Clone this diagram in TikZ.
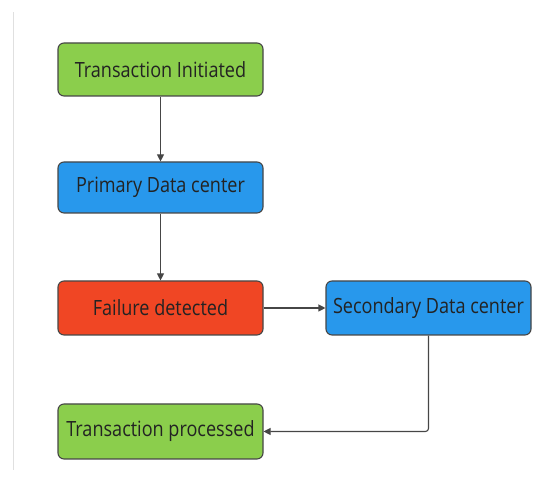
\documentclass[tikz,border=0pt]{standalone}
\usepackage{fontspec}
\setmainfont{Open Sans}[FakeStretch=0.86]
\usetikzlibrary{arrows.meta}
\definecolor{gfill}{RGB}{139,206,76}
\definecolor{bfill}{RGB}{40,152,236}
\definecolor{rfill}{RGB}{240,70,36}
\definecolor{edge}{RGB}{70,70,70}
\definecolor{txt}{RGB}{35,35,35}
\begin{document}
\begin{tikzpicture}[x=1pt,y=1pt,
  box/.style={draw=edge, line width=1.1pt, rounded corners=6pt, minimum width=205pt, minimum height=53pt, inner sep=0pt, text=txt, font=\fontsize{21}{24}\selectfont},
  conn/.style={draw=edge, line width=1.1pt, -{Triangle[length=7pt,width=7pt]}}]
\useasboundingbox (0,0) rectangle (542,486);
\draw[black!12, line width=1pt] (13,16) -- (13,474);
\node[box, fill=gfill] (init) at (160.5,416.5) {Transaction Initiated};
\node[box, fill=bfill, minimum height=51pt] (prim) at (160.5,298.5) {Primary Data center};
\node[box, fill=rfill, minimum height=54pt] (fail) at (160.5,178) {Failure detected};
\node[box, fill=bfill, minimum height=54pt] (sec) at (428.5,178) {Secondary Data center};
\node[box, fill=gfill, minimum height=55pt] (done) at (160.5,54.5) {Transaction processed};
\draw[conn] (init) -- (prim);
\draw[conn] (prim) -- (fail);
\draw[conn] (fail) -- (sec);
\draw[conn, rounded corners=3pt] (sec.south) |- (done.east);
\end{tikzpicture}
\end{document}
